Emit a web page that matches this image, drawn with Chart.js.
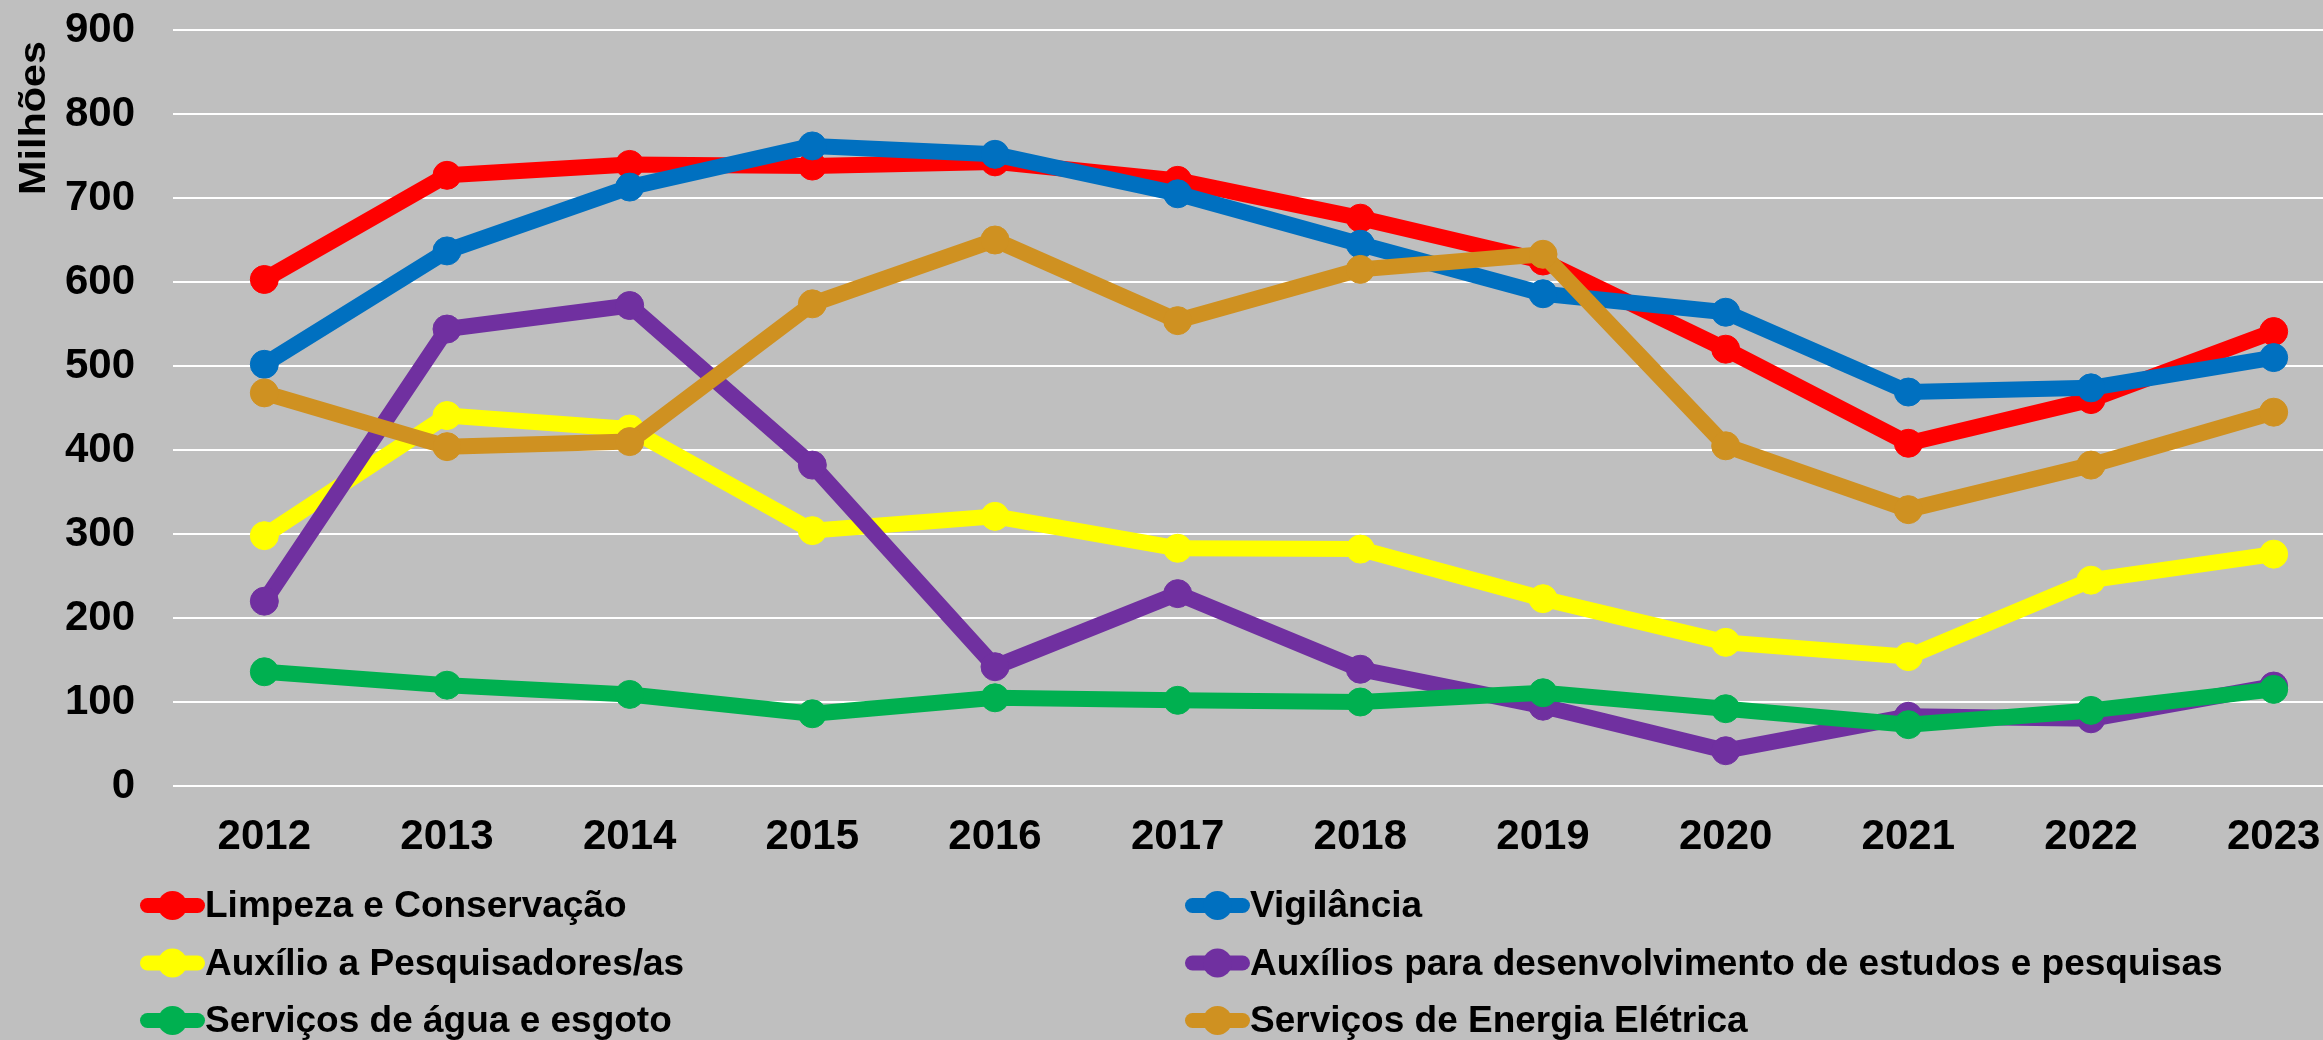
<!DOCTYPE html>
<html>
<head>
<meta charset="utf-8">
<script src="https://cdn.jsdelivr.net/npm/chart.js@4.4.1/dist/chart.umd.min.js"></script>
<style>
  html, body { margin: 0; padding: 0; background: #BFBFBF; overflow: hidden; width: 2323px; height: 1040px; }
  #wrap { position: absolute; left: 0; top: 0; width: 2380px; height: 1040px; }
</style>
</head>
<body>
<div id="wrap"><canvas id="c"></canvas></div>
<script>
const years = ['2012','2013','2014','2015','2016','2017','2018','2019','2020','2021','2022','2023'];
const limpeza = [603, 727, 740, 738, 743, 721, 676, 625, 520, 408, 460, 541];
const vigilancia = [502, 637, 713, 762, 752, 705, 645, 586, 564, 469, 474, 510];
const auxPesquisadores = [298, 441, 425, 304, 321, 283, 282, 223, 171, 154, 245, 276];
const auxEstudos = [220, 544, 572, 382, 142, 229, 139, 95, 42, 83, 80, 119];
const agua = [136, 120, 109, 86, 105, 102, 100, 111, 92, 73, 90, 115];
const energia = [468, 404, 410, 574, 650, 554, 615, 633, 405, 329, 382, 445];
const seriesNames = ['Limpeza e Conservação', 'Vigilância', 'Auxílio a Pesquisadores/as',
  'Auxílios para desenvolvimento de estudos e pesquisas', 'Serviços de água e esgoto', 'Serviços de Energia Elétrica'];
const seriesColors = ['#FF0000', '#0070C0', '#FFFF00', '#7030A0', '#00B050', '#CF9121'];
const yTitle = 'Milhões';

const FONT = "'Liberation Sans', Arial, sans-serif";
const allData = [limpeza, vigilancia, auxPesquisadores, auxEstudos, agua, energia];

const datasets = allData.map((d, i) => ({
  label: seriesNames[i],
  data: d,
  borderColor: seriesColors[i],
  backgroundColor: seriesColors[i],
  pointBackgroundColor: seriesColors[i],
  pointBorderColor: seriesColors[i],
  borderWidth: 16,
  pointRadius: 14,
  pointBorderWidth: 1,
  tension: 0,
  borderJoinStyle: 'round',
  borderCapStyle: 'round',
  order: allData.length - i
}));

const extras = {
  id: 'extras',
  afterDraw(chart) {
    const ctx = chart.ctx;
    ctx.save();
    // y-axis title
    ctx.font = 'bold 37px ' + FONT;
    const tw = ctx.measureText(yTitle).width;
    ctx.translate(35, 118);
    ctx.rotate(-Math.PI / 2);
    ctx.scale(154 / tw, 1);
    ctx.fillStyle = '#000';
    ctx.textAlign = 'center';
    ctx.textBaseline = 'middle';
    ctx.fillText(yTitle, 0, 0);
    ctx.restore();

    // legend
    ctx.save();
    const cols = [172.5, 1217.5];
    const textX = [205, 1250];
    const rowY = [905.5, 963, 1020.5];
    const baseY = [917, 975, 1032];
    ctx.font = 'bold 37px ' + FONT;
    ctx.textBaseline = 'alphabetic';
    ctx.textAlign = 'left';
    for (let i = 0; i < seriesNames.length; i++) {
      const col = i % 2, row = Math.floor(i / 2);
      const cx = cols[col], cy = rowY[row];
      ctx.strokeStyle = seriesColors[i];
      ctx.lineWidth = 15;
      ctx.lineCap = 'round';
      ctx.beginPath();
      ctx.moveTo(cx - 25, cy);
      ctx.lineTo(cx + 25, cy);
      ctx.stroke();
      ctx.fillStyle = seriesColors[i];
      ctx.beginPath();
      ctx.arc(cx, cy, 14.5, 0, Math.PI * 2);
      ctx.fill();
      ctx.fillStyle = '#000';
      ctx.fillText(seriesNames[i], textX[col], baseY[row]);
    }
    ctx.restore();
  }
};

new Chart(document.getElementById('c'), {
  type: 'line',
  data: { labels: years, datasets },
  options: {
    responsive: true,
    maintainAspectRatio: false,
    animation: false,
    events: [],
    layout: { padding: { top: 30, right: 0, bottom: 0, left: 0 } },
    plugins: { legend: { display: false }, tooltip: { enabled: false }, title: { display: false } },
    scales: {
      x: {
        type: 'category',
        offset: true,
        grid: { display: false, drawTicks: false },
        border: { display: false },
        ticks: { color: '#000', font: { family: FONT, size: 42, weight: 'bold' }, padding: 26, maxRotation: 0, autoSkip: false },
        afterFit(scale) { scale.height = 254; scale.paddingLeft = 0; scale.paddingRight = 0; }
      },
      y: {
        min: 0, max: 900,
        grid: { color: '#FFFFFF', lineWidth: 2, drawTicks: false },
        border: { display: false },
        ticks: { stepSize: 100, color: '#000', font: { family: FONT, size: 42, weight: 'bold' }, padding: 38 },
        afterFit(scale) { scale.width = 173; scale.paddingTop = 0; scale.paddingBottom = 0; }
      }
    }
  },
  plugins: [extras]
});
</script>
</body>
</html>
